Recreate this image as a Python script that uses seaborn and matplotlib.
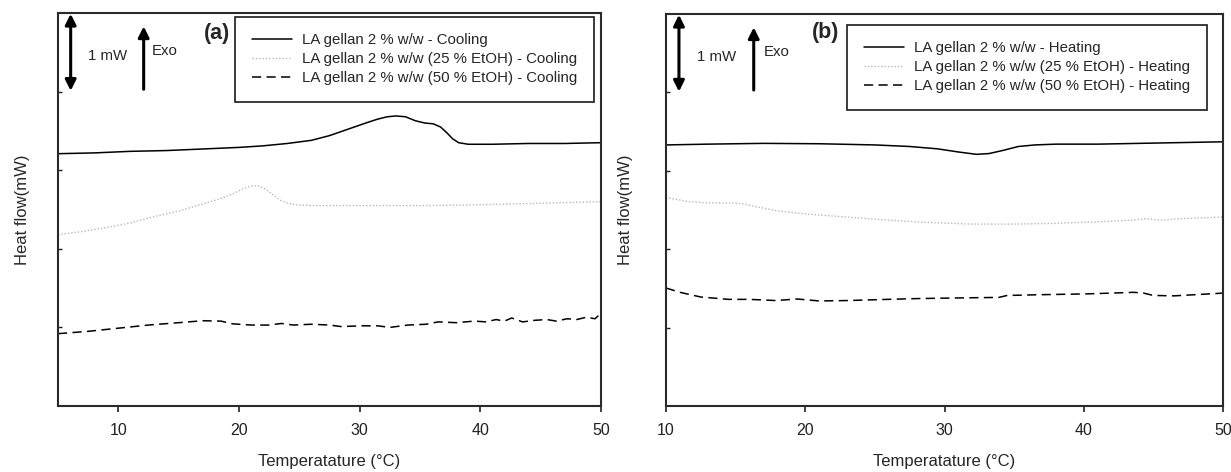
import matplotlib
matplotlib.use("Agg")
import matplotlib.pyplot as plt
import seaborn as sns

# ---- Panel (a): cooling scans ----
temp_a_0 = [5, 8, 11, 14, 17, 20, 22, 24, 26, 27.5, 29, 30.5, 31.5, 32.3, 33, 33.8,
            34.6, 35.4, 36.1, 36.7, 37.2, 37.7, 38.2, 39, 41, 44, 47, 50]
flow_a_0 = [3.21, 3.22, 3.24, 3.25, 3.27, 3.29, 3.31, 3.34, 3.38, 3.44, 3.52, 3.60, 3.65,
            3.68, 3.69, 3.68, 3.63, 3.60, 3.59, 3.55, 3.48, 3.40, 3.35, 3.33, 3.33, 3.34,
            3.34, 3.35]

temp_a_25 = [5, 7, 9, 11, 13, 15, 17, 18.5, 19.5, 20.3, 21, 21.6, 22.2, 22.8, 23.4, 24,
             24.8, 26, 30, 35, 40, 45, 50]
flow_a_25 = [2.18, 2.22, 2.27, 2.33, 2.41, 2.48, 2.57, 2.64, 2.70, 2.76, 2.80, 2.80, 2.76,
             2.69, 2.62, 2.58, 2.56, 2.55, 2.55, 2.55, 2.56, 2.58, 2.60]

temp_a_50 = [5, 7.5, 10, 12.5, 15, 17, 18.5, 19.5, 21, 22.5, 23.5, 24.5, 26, 27.5, 28.5,
             30, 31.5, 32.5, 34, 35.5, 36.5, 38, 39.5, 40.5, 41.3, 42, 42.6, 43.5, 44.5,
             45.5, 46.3, 47.2, 48, 48.8, 49.5, 50]
flow_a_50 = [0.92, 0.95, 0.99, 1.03, 1.06, 1.085, 1.08, 1.045, 1.03, 1.03, 1.05, 1.03,
             1.04, 1.03, 1.01, 1.02, 1.02, 1.00, 1.03, 1.04, 1.07, 1.06, 1.08, 1.07, 1.10,
             1.08, 1.12, 1.07, 1.09, 1.10, 1.08, 1.11, 1.10, 1.13, 1.11, 1.18]

# ---- Panel (b): heating scans ----
temp_b_0 = [10, 13, 17, 21, 25, 27.5, 29.5, 31, 32.3, 33.2, 34.2, 35.3, 36.5, 38, 41, 44,
            47, 50]
flow_b_0 = [3.33, 3.34, 3.35, 3.345, 3.33, 3.31, 3.28, 3.24, 3.21, 3.22, 3.26, 3.31, 3.33,
            3.34, 3.34, 3.35, 3.36, 3.37]

temp_b_25 = [10, 11.5, 13, 14.5, 15.5, 16.5, 18, 20, 23, 26, 29, 32, 35, 38, 41, 43.5,
             44.5, 45.5, 47, 50]
flow_b_25 = [2.66, 2.61, 2.59, 2.59, 2.58, 2.54, 2.49, 2.45, 2.41, 2.37, 2.34, 2.32, 2.32,
             2.33, 2.35, 2.37, 2.39, 2.37, 2.39, 2.41]

temp_b_50 = [10, 11, 12.5, 14.5, 16, 17.9, 19.4, 21, 23, 25.9, 28, 31.6, 33.9, 34.5, 37,
             40.2, 42, 43.6, 44.3, 45, 46.5, 48, 50]
flow_b_50 = [1.505, 1.45, 1.39, 1.36, 1.36, 1.345, 1.365, 1.34, 1.345, 1.36, 1.37, 1.38,
             1.385, 1.41, 1.42, 1.43, 1.44, 1.45, 1.44, 1.41, 1.405, 1.42, 1.44]

labels_a = ["LA gellan 2 % w/w - Cooling",
            "LA gellan 2 % w/w (25 % EtOH) - Cooling",
            "LA gellan 2 % w/w (50 % EtOH) - Cooling"]
labels_b = ["LA gellan 2 % w/w - Heating",
            "LA gellan 2 % w/w (25 % EtOH) - Heating",
            "LA gellan 2 % w/w (50 % EtOH) - Heating"]

sns.set_style("ticks")
plt.rcParams["font.family"] = ["Liberation Sans", "DejaVu Sans"]

fig = plt.figure(figsize=(12.31, 4.72), dpi=100)
ax_a = fig.add_axes([58 / 1231, 1 - 406 / 472, 543 / 1231, 393 / 472])
ax_b = fig.add_axes([666 / 1231, 1 - 406 / 472, 557 / 1231, 392 / 472])

line_styles = [
    dict(color="black", linestyle="-", linewidth=1.1),
    dict(color="#b8b8b8", linestyle=(0, (1, 1.4)), linewidth=1.0),
    dict(color="black", linestyle=(0, (6, 3.5)), linewidth=1.1),
]


def draw_panel(ax, series, labels, xlim, xticks, tag, tag_pos, legend_anchor,
               arrow_x, text_x, exo_x, exo_text_x, ylabelpad):
    for (t, f), lab, st in zip(series, labels, line_styles):
        sns.lineplot(x=t, y=f, ax=ax, label=lab, sort=False, estimator=None, **st)

    ax.set_xlim(*xlim)
    ax.set_ylim(0, 5)
    ax.set_xticks(xticks)
    ax.set_yticks([1, 2, 3, 4])
    ax.set_yticklabels([])
    ax.tick_params(axis="x", direction="out", length=4, width=1.2, pad=8,
                   labelsize=11.5, colors="#222222")
    ax.tick_params(axis="y", direction="in", length=3, width=1.0, colors="#222222")
    for sp in ax.spines.values():
        sp.set_visible(True)
        sp.set_linewidth(1.5)
        sp.set_color("#2a2a2a")

    ax.set_xlabel("Temperatature (°C)", fontsize=12, labelpad=12)
    ax.set_ylabel("Heat flow(mW)", fontsize=12, labelpad=ylabelpad)

    leg = ax.legend(loc="upper right", bbox_to_anchor=legend_anchor,
                    bbox_transform=ax.transAxes, borderaxespad=0, fontsize=10.8,
                    frameon=True, fancybox=False, shadow=False, handlelength=2.7,
                    handletextpad=0.65, labelspacing=0.32, borderpad=1.1)
    leg.get_frame().set_edgecolor("#1a1a1a")
    leg.get_frame().set_linewidth(1.2)
    leg.get_frame().set_facecolor("white")
    leg.get_frame().set_alpha(1)

    ax.text(tag_pos[0], tag_pos[1], tag, transform=ax.transAxes, fontsize=15.5,
            fontweight="bold", ha="center", va="center")

    # 1 mW scale bar and exotherm direction
    ax.annotate("", xy=(arrow_x, 4.99), xytext=(arrow_x, 4.01),
                arrowprops=dict(arrowstyle="<|-|>", color="black", lw=2.2,
                                mutation_scale=16, shrinkA=0, shrinkB=0))
    ax.text(text_x, 4.45, "1 mW", fontsize=10.8, ha="center", va="center")
    ax.annotate("", xy=(exo_x, 4.83), xytext=(exo_x, 4.03),
                arrowprops=dict(arrowstyle="-|>", color="black", lw=2.2,
                                mutation_scale=16, shrinkA=0, shrinkB=0))
    ax.text(exo_text_x, 4.52, "Exo", fontsize=10.8, ha="left", va="center")


draw_panel(ax_a,
           [(temp_a_0, flow_a_0), (temp_a_25, flow_a_25), (temp_a_50, flow_a_50)],
           labels_a, (5, 50), [10, 20, 30, 40, 50], "(a)", (0.293, 0.949),
           (0.987, 0.99), 6.05, 9.1, 12.1, 12.8, 17)
draw_panel(ax_b,
           [(temp_b_0, flow_b_0), (temp_b_25, flow_b_25), (temp_b_50, flow_b_50)],
           labels_b, (10, 50), [10, 20, 30, 40, 50], "(b)", (0.287, 0.953),
           (0.971, 0.972), 10.93, 13.6, 16.3, 17.0, 20)

fig.savefig("out.png", dpi=100)
